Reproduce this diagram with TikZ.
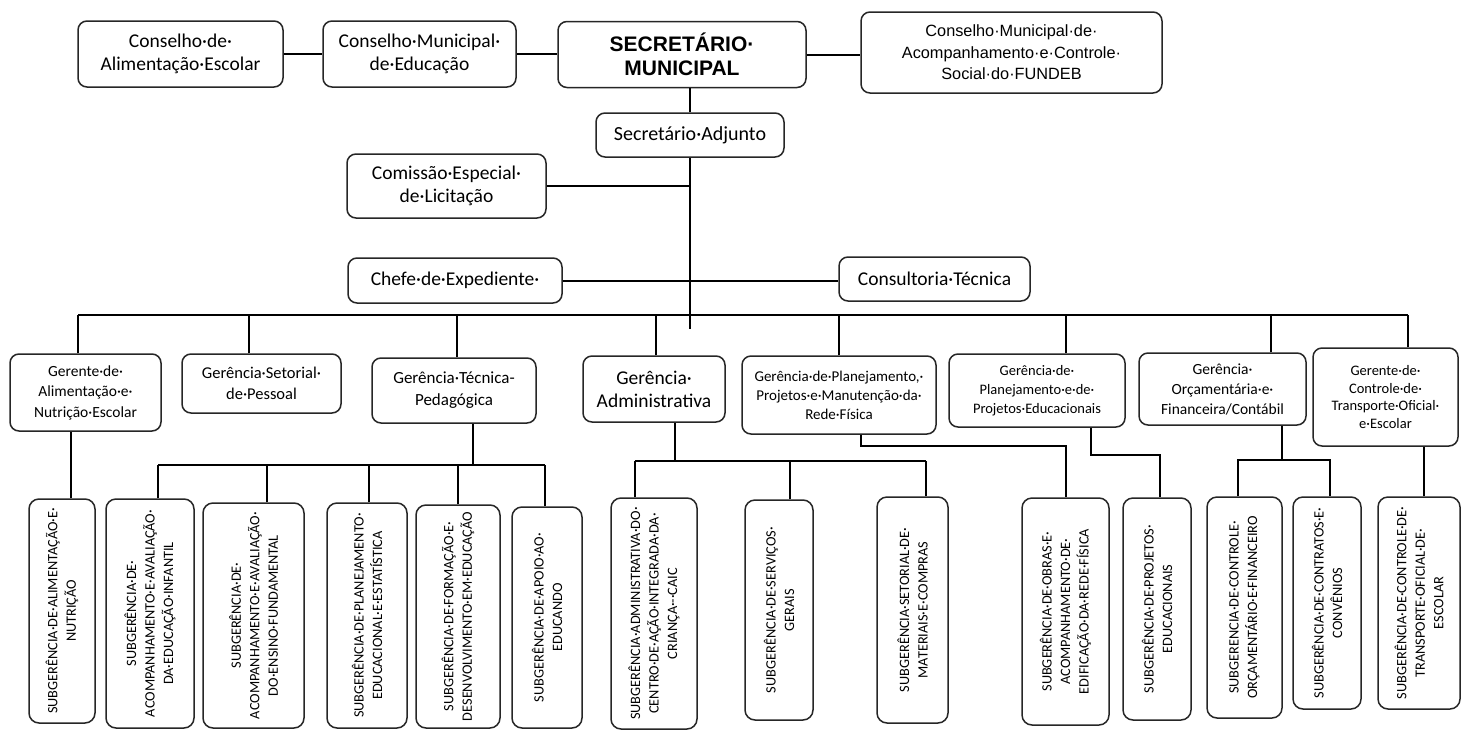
\documentclass[tikz,border=0pt]{standalone}
\usepackage{fontspec}
\setmainfont{Carlito}
\newfontfamily\arialf{Liberation Sans}
\newcommand{\fsz}[2]{\fontsize{#1}{#2}\selectfont}

\begin{document}
\begin{tikzpicture}[x=1pt,y=-1pt,
  box/.style={draw=black!85,line width=1.5pt,rounded corners=9pt,fill=white,
    align=center,inner sep=0pt},
  sbox/.style={box,rotate=90,rounded corners=10pt,font={\fsz{14.3}{18.5}}},
  link/.style={line width=2pt,black}]
\useasboundingbox (0,0) rectangle (1466,731);
% top row
\node[box,minimum width=205pt,minimum height=66pt,font={\fsz{19.5}{23.5}}] (calim)
  at (180.5,54) {Conselho·de·\\Alimentação·Escolar};
\node[box,minimum width=193pt,minimum height=66pt,font={\fsz{19.5}{23.5}}] (cmed)
  at (419.5,54) {Conselho·Municipal·\\de·Educação};
\node[box,minimum width=248pt,minimum height=66pt,font={\arialf\bfseries\fsz{21}{24}}] (sec)
  at (682,54.5) {SECRETÁRIO·\\MUNICIPAL};
\node[box,minimum width=301pt,minimum height=81pt,font={\arialf\fsz{16.3}{21.5}}] (fundeb)
  at (1011.5,52.5) {Conselho·Municipal·de·\\Acompanhamento·e·Controle·\\Social·do·FUNDEB};
\draw[link] (calim) -- (cmed);
\draw[link] (cmed) -- (cmed -| sec.west);
\draw[link] (sec.east) -- (fundeb.west |- sec.east);
% staff
\node[box,minimum width=188pt,minimum height=44pt,font={\fsz{20}{24}}] (adj)
  at (690,135) {Secretário·Adjunto};
\node[box,minimum width=199pt,minimum height=64pt,font={\fsz{19.5}{23.5}}] (lic)
  at (446.5,186) {Comissão·Especial·\\de·Licitação};
\node[box,minimum width=214pt,minimum height=45pt,font={\fsz{19.5}{23.5}}] (chefe)
  at (455,280.5) {Chefe·de·Expediente·};
\node[box,minimum width=191pt,minimum height=44pt,font={\fsz{19.5}{23.5}}] (cons)
  at (934.5,279) {Consultoria·Técnica};
\draw[link] (adj.north) -- (adj.north |- sec.south);
\draw[link] (adj.south) -- ++(0,171);
\draw[link] (lic.east) -- (lic.east -| adj.south);
\draw[link] (chefe.east) -- (cons.west |- chefe.east);
% managers
\node[box,minimum width=151pt,minimum height=77pt,font={\fsz{15.5}{20.5}}] (galim)
  at (85.5,392.5) {Gerente·de·\\Alimentação·e·\\Nutrição·Escolar};
\node[box,minimum width=159pt,minimum height=59pt,font={\fsz{16.5}{21}}] (gpes)
  at (261.5,383.5) {Gerência·Setorial·\\de·Pessoal};
\node[box,minimum width=164pt,minimum height=65pt,font={\fsz{17}{22}}] (gtec)
  at (454,390.5) {Gerência·Técnica-\\Pedagógica};
\node[box,minimum width=142pt,minimum height=66pt,font={\fsz{19.5}{23}}] (gadm)
  at (654,389) {Gerência·\\Administrativa};
\node[box,minimum width=194pt,minimum height=78pt,font={\fsz{15}{19}}] (gproj)
  at (839,395) {Gerência·de·Planejamento,·\\Projetos·e·Manutenção·da·\\Rede·Física};
\node[box,minimum width=176pt,minimum height=73pt,font={\fsz{14.5}{19}}] (gedu)
  at (1037,390.5) {Gerência·de·\\Planejamento·e·de·\\Projetos·Educacionais};
\node[box,minimum width=167pt,minimum height=72pt,font={\fsz{15.5}{20}}] (gorc)
  at (1222.5,389) {Gerência·\\Orçamentária·e·\\Financeira/Contábil};
\node[box,minimum width=145pt,minimum height=98pt,font={\fsz{14.5}{17.5}}] (gtra)
  at (1385.5,397) {Gerente·de·\\Controle·de·\\Transporte·Oficial·\\e·Escolar};
\coordinate (bus) at (0,315);
\foreach \n/\d in {galim/-7.5,gpes/-12.5,gtec/3,gadm/2,gproj/0,gedu/29,gorc/48.5,gtra/22.5}
  \draw[link] ([xshift=\d pt]\n.north) -- ([xshift=\d pt]\n.north |- bus);
\draw[link] ([xshift=-7.5pt]galim.north |- bus) -- ([xshift=22.5pt]gtra.north |- bus);
% sub-managers (rotated: east is the top side)
\node[sbox,minimum width=224pt,minimum height=66pt] (salim) at (62,611)
  {SUBGERÊNCIA·DE·ALIMENTAÇÃO·E·\\NUTRIÇÃO};
\node[sbox,minimum width=229pt,minimum height=88pt] (sinf) at (150,613.5)
  {SUBGERÊNCIA·DE·\\ACOMPANHAMENTO·E·AVALIAÇÃO·\\DA·EDUCAÇÃO·INFANTIL};
\node[sbox,minimum width=225pt,minimum height=101pt] (sfun) at (253.5,615.5)
  {SUBGERÊNCIA·DE·\\ACOMPANHAMENTO·E·AVALIAÇÃO·\\DO·ENSINO·FUNDAMENTAL};
\node[sbox,minimum width=225pt,minimum height=80pt] (spla) at (367,615.5)
  {SUBGERÊNCIA·DE·PLANEJAMENTO·\\EDUCACIONAL·E·ESTATÍSTICA};
\node[sbox,minimum width=223pt,minimum height=84pt] (sfor) at (458,616.5)
  {SUBGERÊNCIA·DE·FORMAÇÃO·E·\\DESENVOLVIMENTO·EM·EDUCAÇÃO};
\node[sbox,minimum width=221pt,minimum height=70pt] (sapo) at (547,617.5)
  {SUBGERÊNCIA·DE·APOIO·AO·\\EDUCANDO};
\node[sbox,minimum width=231pt,minimum height=86pt] (scaic) at (654,613.5)
  {SUBGERÊNCIA·ADMINISTRATIVA·DO·\\CENTRO·DE·AÇÃO·INTEGRADA·DA·\\CRIANÇA·-·CAIC};
\node[sbox,minimum width=220pt,minimum height=68pt] (sser) at (779,610)
  {SUBGERÊNCIA·DE·SERVIÇOS·\\GERAIS};
\node[sbox,minimum width=226pt,minimum height=71pt] (smat) at (912.5,610)
  {SUBGERÊNCIA·SETORIAL·DE·\\MATERIAIS·E·COMPRAS};
\node[sbox,minimum width=227pt,minimum height=87pt] (sobr) at (1065.5,611.5)
  {SUBGERÊNCIA·DE·OBRAS·E·\\ACOMPANHAMENTO·DE·\\EDIFICAÇÃO·DA·REDE·FÍSICA};
\node[sbox,minimum width=222pt,minimum height=68pt] (spro) at (1157,609)
  {SUBGERÊNCIA·DE·PROJETOS·\\EDUCACIONAIS};
\node[sbox,minimum width=221pt,minimum height=75pt] (scon) at (1244.5,607.5)
  {SUBGERENCIA·DE·CONTROLE·\\ORÇAMENTÁRIO·E·FINANCEIRO};
\node[sbox,minimum width=212pt,minimum height=68pt] (sctr) at (1327,603)
  {SUBGERÊNCIA·DE·CONTRATOS·E·\\CONVÊNIOS};
\node[sbox,minimum width=212pt,minimum height=82pt] (stra) at (1419,603)
  {SUBGERÊNCIA·DE·CONTROLE·DE·\\TRANSPORTE·OFICIAL·DE·\\ESCOLAR};
% links down
\draw[link] ([xshift=9pt]salim.east) -- ([xshift=9pt]salim.east |- galim.south);
\coordinate (tbus) at (0,465);
\draw[link] ([xshift=19pt]gtec.south) -- ([xshift=19pt]gtec.south |- tbus);
\draw[link] ([xshift=8pt]sinf.east |- tbus) -- ([xshift=-2pt]sapo.east |- tbus);
\foreach \n/\d in {sinf/8,sfun/13.5,spla/2,sfor/0,sapo/-2}
  \draw[link] ([xshift=\d pt]\n.east) -- ([xshift=\d pt]\n.east |- tbus);
\coordinate (abus) at (0,461);
\draw[link] ([xshift=21pt]gadm.south) -- ([xshift=21pt]gadm.south |- abus);
\draw[link] ([xshift=-19pt]scaic.east |- abus) -- ([xshift=13.5pt]smat.east |- abus);
\foreach \n/\d in {scaic/-19,sser/11,smat/13.5}
  \draw[link] ([xshift=\d pt]\n.east) -- ([xshift=\d pt]\n.east |- abus);
\draw[link] ([xshift=22pt]gproj.south) -- ++(0,11) -| (sobr.east);
\draw[link] ([xshift=54pt]gedu.south) -- ++(0,27) -| ([xshift=3pt]spro.east);
\coordinate (obus) at (0,460);
\draw[link] ([xshift=59.5pt]gorc.south) -- ([xshift=59.5pt]gorc.south |- obus);
\draw[link] ([xshift=-6.5pt]scon.east) -- ([xshift=-6.5pt]scon.east |- obus)
  -| ([xshift=3pt]sctr.east);
\draw[link] ([xshift=5pt]stra.east) -- ([xshift=5pt]stra.east |- gtra.south);
\end{tikzpicture}
\end{document}
